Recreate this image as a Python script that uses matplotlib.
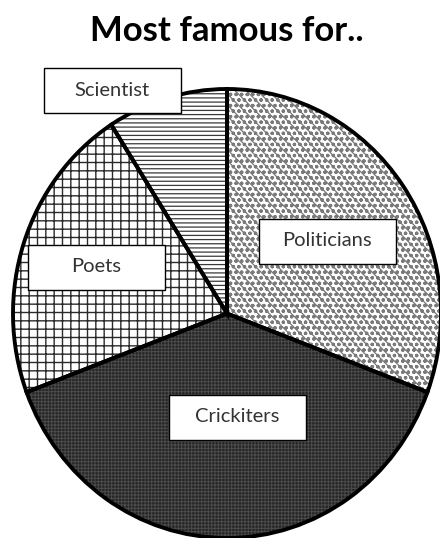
import matplotlib
matplotlib.use("Agg")
import matplotlib.pyplot as plt
from matplotlib.patches import Rectangle

# slice data (clockwise from 12 o'clock)
labels = ['Politicians', 'Crickiters', 'Poets', 'Scientist']
shares = [30.7, 38.6, 21.6, 9.1]

# look of each slice: face, hatch, hatch colour, hatch line width
faces = ['white', '#252525', 'white', 'white']
hatches = ['ooo\\\\\\', '+++++', '++', '----']
hatch_cols = ['#7a7a7a', '#4c4c4c', '#2a2a2a', '#3a3a3a']
hatch_lws = [0.9, 0.7, 1.0, 0.9]

# label box centres in pixels (x, y from top)
box_xy = [(327, 241), (237, 417), (96, 267), (112, 90)]
box_w, box_h = 137, 45

plt.rcParams['font.family'] = ['Lato', 'DejaVu Sans']

fig = plt.figure(figsize=(4.4, 5.38), dpi=100)
fig.patch.set_facecolor('white')

# pie area is a bit taller than wide in the original
ax = fig.add_axes([13/440, 0.0, 428/440, 449/538])

total = sum(shares)
fracs = [s / total for s in shares]

# hatch layer first, one pie per slice so each gets its own hatch width
for i in range(len(fracs)):
    plt.rcParams['hatch.linewidth'] = hatch_lws[i]
    w, _ = ax.pie(fracs, startangle=90, counterclock=False, radius=1,
                  normalize=False, wedgeprops=dict(linewidth=0), frame=True)
    for k, wd in enumerate(w):
        if k == i:
            wd.set_facecolor(faces[i])
            wd.set_hatch(hatches[i])
            wd.set_edgecolor(hatch_cols[i])
            wd.set_clip_on(False)
        else:
            wd.remove()

# black outlines on top
w, _ = ax.pie(fracs, startangle=90, counterclock=False, radius=1,
              normalize=False,
              wedgeprops=dict(fill=False, edgecolor='black', linewidth=2.8),
              frame=True)
for wd in w:
    wd.set_clip_on(False)
ax.set_xlim(-1, 1)
ax.set_ylim(-1, 1)
ax.set_aspect('auto')
ax.axis('off')

# overlay in pixel units for title and label boxes
ov = fig.add_axes([0, 0, 1, 1])
ov.set_xlim(0, 440)
ov.set_ylim(538, 0)
ov.axis('off')

ov.text(227, 31, 'Most famous for..', ha='center', va='center',
        fontsize=25, fontweight='bold', color='black')

for lab, (cx, cy) in zip(labels, box_xy):
    ov.add_patch(Rectangle((cx - box_w/2, cy - box_h/2), box_w, box_h,
                           facecolor='white', edgecolor='black', linewidth=1.0))
    ov.text(cx, cy, lab, ha='center', va='center', fontsize=14.5, color='#333333')

fig.savefig('out.png', dpi=100, facecolor='white')
